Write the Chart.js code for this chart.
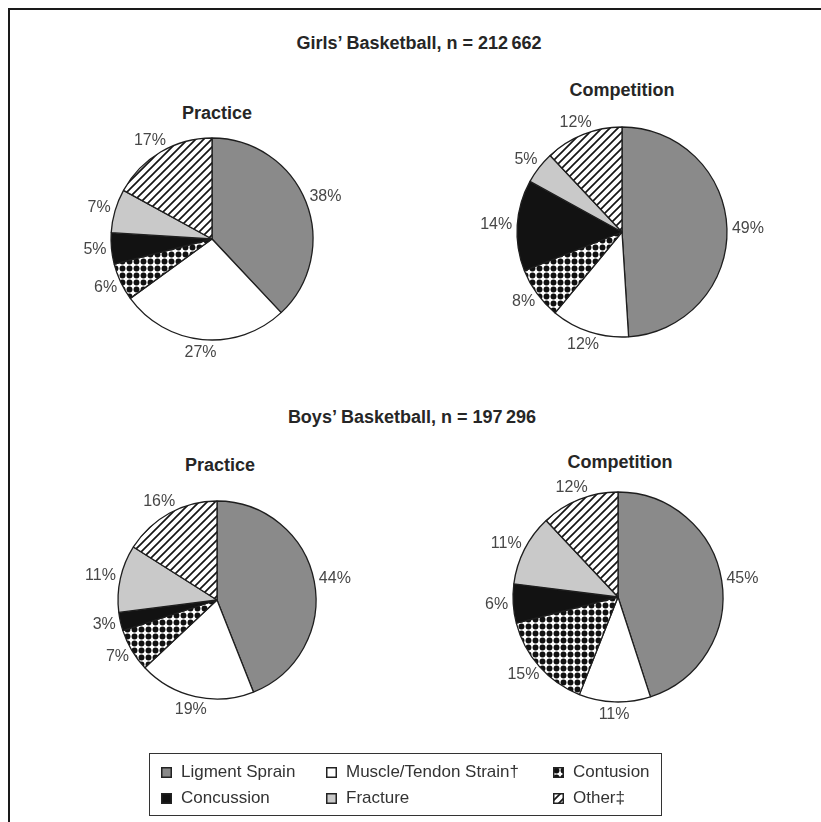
<!DOCTYPE html>
<html>
<head>
<meta charset="utf-8">
<script src="https://cdn.jsdelivr.net/npm/chart.js@4/dist/chart.umd.min.js"></script>
<style>
  body { margin: 0; background: #fff; }
  #page { position: relative; width: 821px; height: 822px; overflow: hidden; font-family: "Liberation Sans", Arial, sans-serif; color: #222; }
  #frame { position: absolute; left: 8px; top: 8px; width: 900px; height: 900px; border-left: 2px solid #1a1a1a; border-top: 2px solid #1a1a1a; }
  .title { position: absolute; width: 400px; text-align: center; font-weight: bold; font-size: 18px; line-height: 20px; color: #262626; }
  .pie { position: absolute; }
  #legend { position: absolute; left: 149px; top: 753px; width: 511px; height: 61px; border: 1px solid #333; }
  .item { position: absolute; font-size: 17px; line-height: 20px; color: #333; white-space: nowrap; }
  .item canvas { position: absolute; left: -20px; top: 5px; }
</style>
</head>
<body>
<div id="page">
  <div id="frame"></div>
  <div class="title" style="left:219px; top:33px;">Girls’ Basketball, n = 212&#8201;662</div>
  <div class="title" style="left:17px; top:103px;">Practice</div>
  <div class="title" style="left:422px; top:80px;">Competition</div>
  <div class="title" style="left:212px; top:407px;">Boys’ Basketball, n = 197&#8201;296</div>
  <div class="title" style="left:20px; top:455px;">Practice</div>
  <div class="title" style="left:420px; top:452px;">Competition</div>

  <canvas id="girls-practice" class="pie" width="340" height="340"></canvas>
  <canvas id="girls-competition" class="pie" width="340" height="340"></canvas>
  <canvas id="boys-practice" class="pie" width="340" height="340"></canvas>
  <canvas id="boys-competition" class="pie" width="340" height="340"></canvas>

  <div id="legend"></div>
</div>
<script>
// categorias e valores (%), no sentido horário a partir das 12h
const categories = ['Ligment Sprain', 'Muscle/Tendon Strain†', 'Contusion', 'Concussion', 'Fracture', 'Other‡'];
const girlsPractice = [38, 27, 6, 5, 7, 17];
const girlsCompetition = [49, 12, 8, 14, 5, 12];
const boysPractice = [44, 19, 7, 3, 11, 16];
const boysCompetition = [45, 11, 15, 6, 11, 12];

// padrões de preenchimento
function dotPattern() {
  const c = document.createElement('canvas');
  c.width = 7; c.height = 7;
  const g = c.getContext('2d');
  g.fillStyle = '#fff';
  g.fillRect(0, 0, 7, 7);
  g.fillStyle = '#111';
  g.beginPath();
  g.arc(3.5, 3.5, 2.95, 0, Math.PI * 2);
  g.fill();
  return g.createPattern(c, 'repeat');
}

function stripePattern() {
  const c = document.createElement('canvas');
  c.width = 8; c.height = 8;
  const g = c.getContext('2d');
  g.fillStyle = '#fff';
  g.fillRect(0, 0, 8, 8);
  g.strokeStyle = '#151515';
  g.lineWidth = 1.7;
  g.beginPath();
  g.moveTo(-1, 9); g.lineTo(9, -1);
  g.moveTo(-1, 1); g.lineTo(1, -1);
  g.moveTo(7, 9); g.lineTo(9, 7);
  g.stroke();
  return g.createPattern(c, 'repeat');
}

const fills = ['#8a8a8a', '#ffffff', dotPattern(), '#121212', '#c9c9c9', stripePattern()];

// rótulos de porcentagem fora da pizza
const pctLabels = {
  id: 'pctLabels',
  afterDatasetsDraw(chart) {
    const ctx = chart.ctx;
    const meta = chart.getDatasetMeta(0);
    const values = chart.data.datasets[0].data;
    ctx.save();
    ctx.font = '16px "Liberation Sans", Arial, sans-serif';
    ctx.fillStyle = '#474747';
    ctx.textAlign = 'center';
    ctx.textBaseline = 'middle';
    meta.data.forEach((arc, i) => {
      const p = arc.getProps(['x', 'y', 'startAngle', 'endAngle', 'outerRadius'], true);
      const mid = (p.startAngle + p.endAngle) / 2;
      const dx = Math.cos(mid), dy = Math.sin(mid);
      const txt = values[i] + '%';
      const w = ctx.measureText(txt).width;
      const d = p.outerRadius + 5;
      ctx.fillText(txt, p.x + dx * (d + w / 2), p.y + dy * (d + 8));
    });
    ctx.restore();
  }
};

function makePie(id, values, cx, cy, r) {
  const el = document.getElementById(id);
  el.style.left = (cx - 170) + 'px';
  el.style.top = (cy - 170) + 'px';
  new Chart(el, {
    type: 'pie',
    data: {
      labels: categories,
      datasets: [{
        data: values,
        backgroundColor: fills,
        borderColor: '#1e1e1e',
        borderWidth: 1.3,
        hoverOffset: 0
      }]
    },
    options: {
      responsive: false,
      animation: false,
      radius: r,
      layout: { padding: 0 },
      plugins: {
        legend: { display: false },
        tooltip: { enabled: false }
      }
    },
    plugins: [pctLabels]
  });
}

makePie('girls-practice', girlsPractice, 212, 239, 101);
makePie('girls-competition', girlsCompetition, 622, 232, 105);
makePie('boys-practice', boysPractice, 217, 600, 99);
makePie('boys-competition', boysCompetition, 618, 597, 105);

// legenda
const legendPos = [[31, 8], [196, 8], [423, 8], [31, 34], [196, 34], [423, 34]];
const legend = document.getElementById('legend');
categories.forEach((name, i) => {
  const item = document.createElement('div');
  item.className = 'item';
  item.style.left = legendPos[i][0] + 'px';
  item.style.top = legendPos[i][1] + 'px';
  const sw = document.createElement('canvas');
  sw.width = 11; sw.height = 11;
  const g = sw.getContext('2d');
  g.fillStyle = fills[i];
  g.fillRect(0, 0, 11, 11);
  g.strokeStyle = '#222';
  g.lineWidth = 1.5;
  g.strokeRect(0.75, 0.75, 9.5, 9.5);
  item.appendChild(sw);
  item.appendChild(document.createTextNode(name));
  legend.appendChild(item);
});
</script>
</body>
</html>
